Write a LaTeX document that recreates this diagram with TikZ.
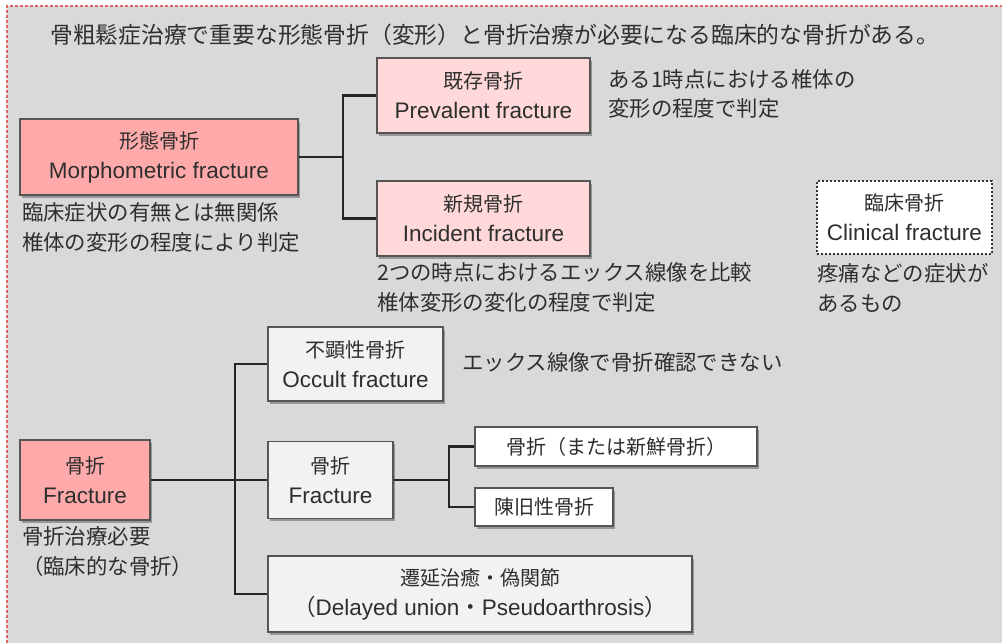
\documentclass[tikz,border=0pt]{standalone}
\usepackage{fontspec}
\setmainfont{Liberation Sans}
\newfontfamily\jp{Noto Sans CJK JP}
\usetikzlibrary{shadows}
\definecolor{bg}{HTML}{D9D9D9}
\definecolor{salmon}{HTML}{FFAAAA}
\definecolor{lpink}{HTML}{FFD9D9}
\definecolor{lgray}{HTML}{F2F2F2}
\definecolor{txt}{HTML}{2E2E2E}
\definecolor{bord}{HTML}{555555}
\definecolor{framecol}{HTML}{E06666}
\newcommand\jt[1]{{\jp\fontsize{20}{30}\selectfont #1}}
\begin{document}
\begin{tikzpicture}[x=1pt,y=-1pt,
  box/.style={draw=bord, line width=1.3pt, align=center, inner sep=0pt, text=txt,
    font=\fontsize{22.5}{30}\selectfont,
    drop shadow={shadow xshift=2pt, shadow yshift=-2.5pt, fill=black, opacity=0.3}},
  note/.style={anchor=west, align=left, inner sep=0pt, text=txt,
    font=\jp\fontsize{21.4}{29.5}\selectfont},
  conn/.style={draw=black!85, line width=2.4pt}]
\useasboundingbox (0,0) rectangle (1002,643);
\fill[white] (0,0) rectangle (1002,643);
\fill[bg] (7,6) rectangle (1002,643);
\draw[framecol, line width=1.6pt, dash pattern=on 3pt off 2pt] (7,643) -- (7,6) -- (1002,6);

% title
\node[note, font=\jp\fontsize{22.8}{30}\selectfont] (title) at (50,35) {骨粗鬆症治療で重要な形態骨折（変形）と骨折治療が必要になる臨床的な骨折がある。};

% upper part
\node[box, fill=salmon, minimum width=278pt, minimum height=76pt] (morph) at (159,157) {\jt{形態骨折}\\Morphometric fracture};
\node[box, fill=lpink, minimum width=213pt, minimum height=75pt] (prev) at (483.5,95.5) {\jt{既存骨折}\\Prevalent fracture};
\node[box, fill=lpink, minimum width=213pt, minimum height=75pt] (inc) at (483.5,218.5) {\jt{新規骨折}\\Incident fracture};
\node[draw=black!80, fill=white, dash pattern=on 2pt off 2pt, line width=1.2pt, align=center, inner sep=0pt, text=txt,
  font=\fontsize{22.5}{30}\selectfont, minimum width=175pt, minimum height=73pt] (clin) at (904.5,217.5) {\jt{臨床骨折}\\Clinical fracture};

\node[note] (prevnote) at (608,94) {ある1時点における椎体の\\変形の程度で判定};
\node[note] (morphnote) at (22,227.5) {臨床症状の有無とは無関係\\椎体の変形の程度により判定};
\node[note] (incnote) at (377,287.5) {2つの時点におけるエックス線像を比較\\椎体変形の変化の程度で判定};
\node[note] (clinnote) at (817,288) {疼痛などの症状が\\あるもの};

\coordinate (j1) at (343,157);
\draw[conn] (morph.east) -- (j1);
\draw[conn] (j1) |- (prev.west);
\draw[conn] (j1) |- (inc.west);

% lower part
\node[box, fill=salmon, minimum width=130pt, minimum height=80pt] (frac) at (85,480) {\jt{骨折}\\Fracture};
\node[box, fill=lgray, minimum width=175pt, minimum height=74pt] (occ) at (355.5,364) {\jt{不顕性骨折}\\Occult fracture};
\node[box, fill=lgray, minimum width=125pt, minimum height=77pt] (frac2) at (330.5,480) {\jt{骨折}\\Fracture};
\node[box, fill=white, minimum width=282pt, minimum height=39pt] (fresh) at (616,446.5) {\jt{骨折（または新鮮骨折）}};
\node[box, fill=white, minimum width=138pt, minimum height=38pt] (old) at (544,507) {\jt{陳旧性骨折}};
\node[box, fill=lgray, minimum width=424pt, minimum height=76pt] (delay) at (480,594) {\jt{遷延治癒・偽関節}\\{\jp（}Delayed union{\jp ・}Pseudoarthrosis{\jp ）}};

\node[note] (occnote) at (462,362) {エックス線像で骨折確認できない};
\node[note] (fracnote) at (22,551.5) {骨折治療必要\\（臨床的な骨折）};

\coordinate (j2) at (235,480);
\draw[conn] (frac.east) -- (frac2.west);
\draw[conn] (j2) |- (occ.west);
\draw[conn] (j2) |- (delay.west);

\coordinate (j3) at (449,480);
\draw[conn] (frac2.east) -- (j3);
\draw[conn] (j3) |- (fresh.west);
\draw[conn] (j3) |- (old.west);
\end{tikzpicture}
\end{document}
